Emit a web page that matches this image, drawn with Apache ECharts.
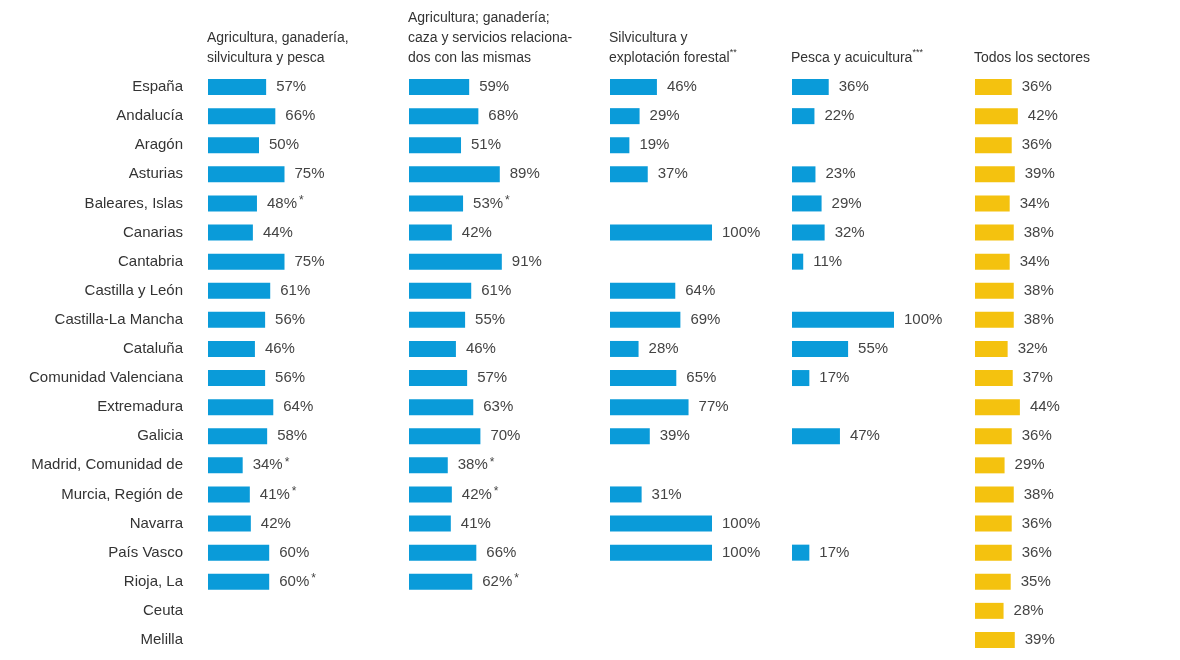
<!DOCTYPE html>
<html>
<head>
<meta charset="utf-8">
<script src="https://cdn.jsdelivr.net/npm/echarts@6/dist/echarts.min.js"></script>
<style>html,body{margin:0;padding:0;background:#fff}#main{width:1180px;height:660px}</style>
</head>
<body>
<div id="main"></div>
<script>
// regiones
var regions = ['España', 'Andalucía', 'Aragón', 'Asturias', 'Baleares, Islas', 'Canarias', 'Cantabria',
  'Castilla y León', 'Castilla-La Mancha', 'Cataluña', 'Comunidad Valenciana', 'Extremadura', 'Galicia',
  'Madrid, Comunidad de', 'Murcia, Región de', 'Navarra', 'País Vasco', 'Rioja, La', 'Ceuta', 'Melilla'];

var agriTotal = [57, 66, 50, 75, 48, 44, 75, 61, 56, 46, 56, 64, 58, 34, 41, 42, 60, 60, null, null];
var agriCaza = [59, 68, 51, 89, 53, 42, 91, 61, 55, 46, 57, 63, 70, 38, 42, 41, 66, 62, null, null];
var silvicultura = [46, 29, 19, 37, null, 100, null, 64, 69, 28, 65, 77, 39, null, 31, 100, 100, null, null, null];
var pesca = [36, 22, null, 23, 29, 32, 11, null, 100, 55, 17, null, 47, null, null, null, 17, null, null, null];
var todos = [36, 42, 36, 39, 34, 38, 34, 38, 38, 32, 37, 44, 36, 29, 38, 36, 36, 35, 28, 39];
// regiones marcadas con * en las dos primeras columnas
var asterisco = ['Baleares, Islas', 'Madrid, Comunidad de', 'Murcia, Región de', 'Rioja, La'];

var lefts = [208, 409, 610, 792, 975];
var series = [agriTotal, agriCaza, silvicultura, pesca, todos];
var colores = ['#0a9bd9', '#0a9bd9', '#0a9bd9', '#0a9bd9', '#f4c20f'];
var font = "'Liberation Sans Narrow', 'Liberation Sans', sans-serif";

var myChart = echarts.init(document.getElementById('main'));

var grids = [], xAxes = [], yAxes = [], seriesOpt = [];
lefts.forEach(function (l, i) {
  grids.push({ left: l, width: 102, top: 72.5, height: 582 });
  xAxes.push({ gridIndex: i, type: 'value', min: 0, max: 100, show: false });
  yAxes.push({
    gridIndex: i, type: 'category', data: regions, inverse: true,
    axisLine: { show: false }, axisTick: { show: false },
    axisLabel: { show: i === 0, margin: 25, color: '#333', fontSize: 15, fontFamily: font }
  });
  var star = i < 2;
  seriesOpt.push({
    type: 'bar', xAxisIndex: i, yAxisIndex: i, data: series[i], barWidth: 16,
    itemStyle: { color: colores[i] },
    label: {
      show: true, position: 'right', distance: 10, color: '#444', fontSize: 15, fontFamily: font,
      formatter: function (p) {
        var s = p.value + '%';
        if (star && asterisco.indexOf(p.name) >= 0) s += '{sup|*}';
        return s;
      },
      rich: { sup: { fontSize: 12, verticalAlign: 'top', padding: [0, 0, 6, 2], color: '#444' } }
    }
  });
});

function header(x, lines, y) {
  return {
    type: 'text', left: x, top: y,
    style: { text: lines, fill: '#333', fontSize: 14, fontFamily: font, lineHeight: 20,
      rich: { sup: { fontSize: 9, verticalAlign: 'top', fill: '#333', padding: [0, 0, 8, 0] } } }
  };
}

myChart.setOption({
  animation: false,
  grid: grids,
  xAxis: xAxes,
  yAxis: yAxes,
  series: seriesOpt,
  graphic: [
    header(207, 'Agricultura, ganadería,\nsilvicultura y pesca', 28),
    header(408, 'Agricultura; ganadería;\ncaza y servicios relaciona-\ndos con las mismas', 8),
    header(609, 'Silvicultura y\nexplotación forestal{sup|**}', 28),
    header(791, 'Pesca y acuicultura{sup|***}', 48),
    header(974, 'Todos los sectores', 48)
  ]
});
</script>
</body>
</html>
